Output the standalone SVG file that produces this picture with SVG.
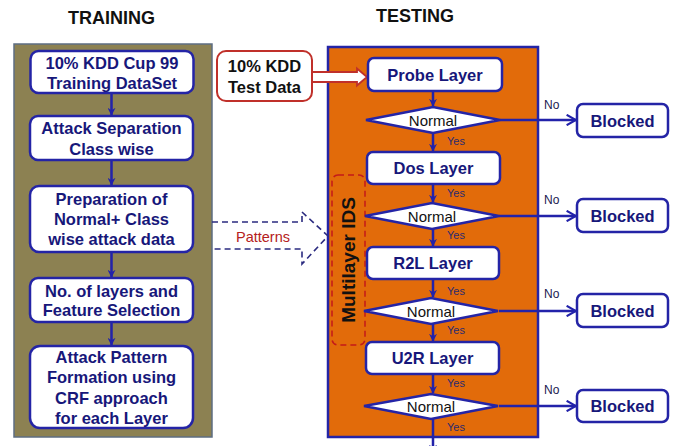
<svg xmlns="http://www.w3.org/2000/svg" width="673" height="446" viewBox="0 0 673 446">
<style>
.title{font-family:"Liberation Sans",Arial,sans-serif;font-weight:bold;font-size:18px;fill:#111;text-anchor:middle}
.box{fill:#fff;stroke:#2424A6;stroke-width:2.5}
.bt{font-family:"Liberation Sans",Arial,sans-serif;font-weight:bold;font-size:16.5px;fill:#17177A;text-anchor:middle}
.dia{fill:#fff;stroke:#2424A6;stroke-width:2.5}
.nt{font-family:"Liberation Sans",Arial,sans-serif;font-size:15px;fill:#111;text-anchor:middle}
.yes{font-family:"Liberation Sans",Arial,sans-serif;font-size:11px;fill:#2A2A70}
.no{font-family:"Liberation Sans",Arial,sans-serif;font-size:12px;fill:#1A1A50}
.con{stroke:#2222AA;stroke-width:2.5;fill:none}
</style>
<defs>
<marker id="ah" viewBox="0 0 10 10" refX="9" refY="5" markerWidth="3.2" markerHeight="3.2" orient="auto" markerUnits="strokeWidth">
<path d="M0,0 L10,5 L0,10 L3,5 z" fill="#2222AA"/>
</marker>
<marker id="ch" viewBox="0 0 12 12" refX="10" refY="6" markerWidth="5" markerHeight="5" orient="auto" markerUnits="strokeWidth">
<path d="M1,1 L10,6 L1,11" fill="none" stroke="#2222AA" stroke-width="2"/>
</marker>
</defs>

<text class="title" x="111.5" y="24">TRAINING</text>
<text class="title" x="415" y="22">TESTING</text>

<g id="training-panel">
<rect x="14" y="44" width="198" height="393" fill="#8C8152" stroke="#5E6E82" stroke-width="1.5"/>
</g>
<g id="testing-panel">
<rect x="328" y="47" width="210" height="390" fill="#E26B0A" stroke="#2424A6" stroke-width="2.5"/>
</g>

<g id="multilayer-ids">
<rect x="332" y="175" width="33" height="170" rx="6" fill="none" stroke="#C41A1A" stroke-width="1.5" stroke-dasharray="6,4"/>
<text x="0" y="0" transform="translate(355,260) rotate(-90)" font-family="Liberation Sans, Arial, sans-serif" font-weight="bold" font-size="19" fill="#111" text-anchor="middle">Multilayer IDS</text>
</g>

<g id="connectors">
<line class="con" x1="111.5" y1="93" x2="111.5" y2="115" marker-end="url(#ah)"/>
<line class="con" x1="111.5" y1="160" x2="111.5" y2="185" marker-end="url(#ah)"/>
<line class="con" x1="111.5" y1="252" x2="111.5" y2="277" marker-end="url(#ah)"/>
<line class="con" x1="111.5" y1="322" x2="111.5" y2="345" marker-end="url(#ah)"/>

<line class="con" x1="433" y1="91" x2="433" y2="106" marker-end="url(#ah)"/>
<line class="con" x1="433" y1="133" x2="433" y2="151" marker-end="url(#ah)"/>
<line class="con" x1="433" y1="184" x2="433" y2="202" marker-end="url(#ah)"/>
<line class="con" x1="433" y1="229" x2="433" y2="246" marker-end="url(#ah)"/>
<line class="con" x1="433" y1="279" x2="433" y2="297" marker-end="url(#ah)"/>
<line class="con" x1="433" y1="324" x2="433" y2="341" marker-end="url(#ah)"/>
<line class="con" x1="433" y1="374" x2="433" y2="393" marker-end="url(#ah)"/>
<line class="con" x1="433" y1="419" x2="433" y2="452" marker-end="url(#ah)"/>

<line class="con" x1="500" y1="120" x2="576" y2="120" marker-end="url(#ch)"/>
<line class="con" x1="499" y1="216" x2="576" y2="216" marker-end="url(#ch)"/>
<line class="con" x1="499" y1="311" x2="576" y2="311" marker-end="url(#ch)"/>
<line class="con" x1="499" y1="406" x2="576" y2="406" marker-end="url(#ch)"/>

<path d="M312,72 L357,72 L357,68.5 L367,77 L357,85.5 L357,82 L312,82" fill="#fff" stroke="#C0302A" stroke-width="1.8" stroke-linejoin="miter"/>

<path d="M212,222 L302,222 L302,212 L328,236 L302,264 L302,249 L212,249" fill="none" stroke="#2B2B80" stroke-width="1.6" stroke-dasharray="6,4"/>
<text x="263" y="242" font-family="Liberation Sans, Arial, sans-serif" font-size="14.5" fill="#B52020" text-anchor="middle">Patterns</text>

<text class="yes" x="447" y="145">Yes</text>
<text class="yes" x="447" y="197">Yes</text>
<text class="yes" x="447" y="239">Yes</text>
<text class="yes" x="447" y="295">Yes</text>
<text class="yes" x="447" y="334">Yes</text>
<text class="yes" x="447" y="387">Yes</text>
<text class="yes" x="447" y="431">Yes</text>

<text class="no" x="544" y="109">No</text>
<text class="no" x="544" y="204">No</text>
<text class="no" x="544" y="298">No</text>
<text class="no" x="544" y="394">No</text>
</g>

<g id="t1">
<rect class="box" x="30.5" y="51" width="163" height="42" rx="8"/>
<text class="bt" x="112" y="69">10% KDD Cup 99</text>
<text class="bt" x="112" y="89">Training DataSet</text>
</g>
<g id="t2">
<rect class="box" x="30" y="116" width="163" height="44" rx="8"/>
<text class="bt" x="111.5" y="134">Attack Separation</text>
<text class="bt" x="111.5" y="155">Class wise</text>
</g>
<g id="t3">
<rect class="box" x="30" y="186" width="163" height="66" rx="9"/>
<text class="bt" x="111.5" y="205">Preparation of</text>
<text class="bt" x="111.5" y="225">Normal+ Class</text>
<text class="bt" x="111.5" y="245">wise attack data</text>
</g>
<g id="t4">
<rect class="box" x="30" y="278" width="163" height="44" rx="8"/>
<text class="bt" x="111.5" y="297">No. of layers and</text>
<text class="bt" x="111.5" y="316">Feature Selection</text>
</g>
<g id="t5">
<rect class="box" x="30" y="346" width="163" height="82" rx="10"/>
<text class="bt" x="111.5" y="363">Attack Pattern</text>
<text class="bt" x="111.5" y="383">Formation using</text>
<text class="bt" x="111.5" y="404">CRF approach</text>
<text class="bt" x="111.5" y="424">for each Layer</text>
</g>

<g id="test-data">
<rect x="217" y="51" width="95" height="50" rx="9" fill="#fff" stroke="#C0302A" stroke-width="2"/>
<text x="264.5" y="72" font-family="Liberation Sans, Arial, sans-serif" font-weight="bold" font-size="16.5" fill="#111" text-anchor="middle">10% KDD</text>
<text x="264.5" y="93" font-family="Liberation Sans, Arial, sans-serif" font-weight="bold" font-size="16.5" fill="#111" text-anchor="middle">Test Data</text>
</g>

<g id="probe">
<rect class="box" x="368" y="58" width="134" height="33" rx="6"/>
<text class="bt" x="435" y="80.5">Probe Layer</text>
</g>
<g id="normal1">
<polygon class="dia" points="366,120 433,107 500,120 433,133"/>
<text class="nt" x="433" y="125.5">Normal</text>
</g>
<g id="dos">
<rect class="box" x="367" y="152" width="133" height="32" rx="6"/>
<text class="bt" x="433.5" y="174">Dos Layer</text>
</g>
<g id="normal2">
<polygon class="dia" points="365,216 432,203 499,216 432,229"/>
<text class="nt" x="432" y="221.5">Normal</text>
</g>
<g id="r2l">
<rect class="box" x="367" y="247" width="132" height="32" rx="6"/>
<text class="bt" x="433" y="269">R2L Layer</text>
</g>
<g id="normal3">
<polygon class="dia" points="364,311 431,298 498,311 431,324"/>
<text class="nt" x="431" y="316.5">Normal</text>
</g>
<g id="u2r">
<rect class="box" x="366" y="342" width="133" height="32" rx="6"/>
<text class="bt" x="432.5" y="364">U2R Layer</text>
</g>
<g id="normal4">
<polygon class="dia" points="364,406 431,394 498,406 431,419"/>
<text class="nt" x="431" y="411.5">Normal</text>
</g>

<g id="blocked1">
<rect class="box" x="577" y="104" width="91" height="33" rx="6"/>
<text class="bt" x="622.5" y="126.5">Blocked</text>
</g>
<g id="blocked2">
<rect class="box" x="577" y="199" width="91" height="33" rx="6"/>
<text class="bt" x="622.5" y="221.5">Blocked</text>
</g>
<g id="blocked3">
<rect class="box" x="577" y="294" width="91" height="33" rx="6"/>
<text class="bt" x="622.5" y="316.5">Blocked</text>
</g>
<g id="blocked4">
<rect class="box" x="577" y="390" width="91" height="32" rx="6"/>
<text class="bt" x="622.5" y="412">Blocked</text>
</g>
</svg>
